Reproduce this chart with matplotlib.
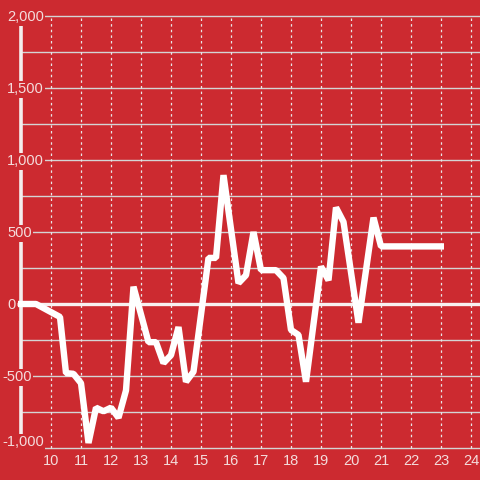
import matplotlib
matplotlib.use("Agg")
import matplotlib.pyplot as plt

# hours and values
hours = [8.9, 9.5, 10.3, 10.5, 10.75, 11.0, 11.25, 11.5, 11.75, 12.0, 12.25, 12.5,
         12.75, 13.25, 13.5, 13.75, 14.0, 14.25, 14.5, 14.75, 15.25, 15.5, 15.75,
         16.25, 16.5, 16.75, 17.0, 17.5, 17.75, 18.0, 18.25, 18.5, 19.0, 19.25,
         19.5, 19.75, 20.25, 20.75, 21.0, 23.1]
values = [0, 0, -90, -480, -485, -550, -965, -720, -745, -720, -790, -600,
          120, -265, -265, -410, -355, -160, -540, -470, 320, 320, 895,
          145, 200, 500, 235, 235, 180, -180, -215, -540, 260, 165,
          670, 570, -130, 600, 400, 400]

x_ticks = list(range(10, 25))
y_ticks = [-1000, -750, -500, -250, 0, 250, 500, 750, 1000, 1250, 1500, 1750, 2000]
y_labels = [-1000, -500, 0, 500, 1000, 1500, 2000]

bg = "#cc2a30"
txt = "#f4dcdc"

fig = plt.figure(figsize=(4.8, 4.8), dpi=100, facecolor=bg)
# axes spans pixel x 45..480, y 16..448
ax = fig.add_axes([45/480, 32/480, 435/480, 432/480])
ax.set_facecolor(bg)
x0 = 10 - 6/30.0
ax.set_xlim(x0, x0 + 435/30.0)
ax.set_ylim(-1000, 2000)
for s in ax.spines.values():
    s.set_visible(False)
ax.set_xticks([])
ax.set_yticks([])

def px(p):
    # pixel column -> data x
    return x0 + (p - 45) / 30.0

for yv in y_ticks:
    if yv == 0:
        continue
    ax.plot([px(21), px(480)], [yv, yv], color="#d4d4d4", lw=1.0,
            clip_on=False, zorder=1)
for xv in x_ticks:
    ax.plot([xv, xv], [-1000, 2000], color="#e8e8e8", lw=0.9,
            linestyle=(0, (2, 2.5)), clip_on=False, zorder=1)

# zero line and left axis line
ax.plot([px(17), px(480)], [0, 0], color="#f8f0f0", lw=2.4,
        clip_on=False, zorder=2, solid_capstyle="butt")
ax.plot([px(20.5)] * 2, [-1000, 2000], color="#f4eeee", lw=2.6,
        clip_on=False, zorder=2, solid_capstyle="butt")

ax.plot(hours, values, color="white", lw=4.6, clip_on=False, zorder=3,
        solid_joinstyle="bevel", solid_capstyle="butt")

for yv in y_labels:
    lab = f"{yv:,}"
    xpos = px(2) if yv < 0 else px(7)
    ypos = yv - 10 if yv > -1000 else yv + 40
    ax.text(xpos, ypos, lab, ha="left", va="center", color=txt,
            fontsize=10.5, family="Liberation Sans", zorder=4, clip_on=False,
            bbox=dict(facecolor=bg, edgecolor="none", pad=1.2))
for xv in x_ticks:
    ax.text(xv, -1040, str(xv), ha="center", va="top", color=txt,
            fontsize=10.5, family="Liberation Sans")

fig.savefig("out.png", dpi=100, facecolor=bg)
